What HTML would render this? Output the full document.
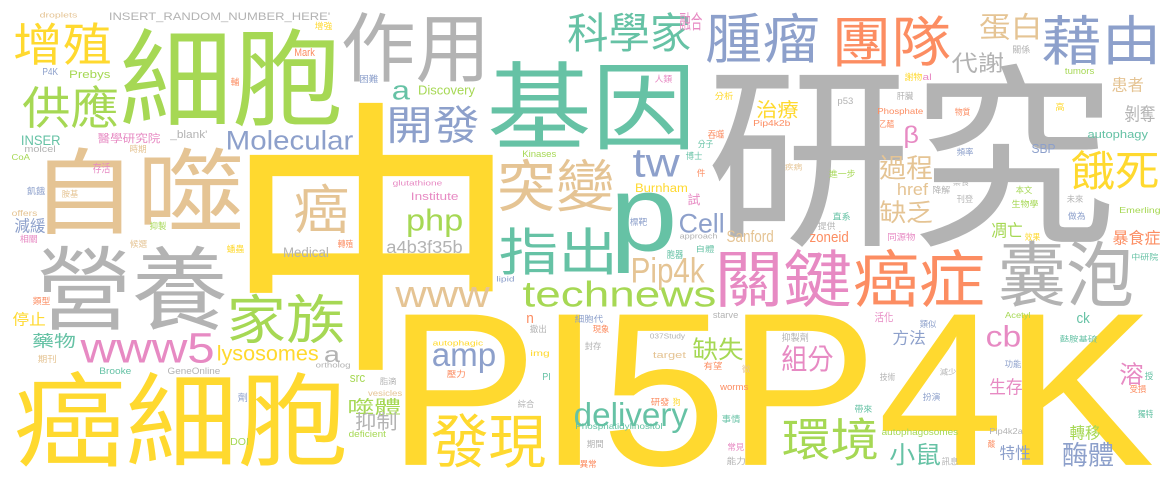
<!DOCTYPE html>
<html><head><meta charset="utf-8"><style>
html,body{margin:0;padding:0;background:#fff;width:1175px;height:482px;overflow:hidden;}
svg{display:block;}
text{font-family:"Liberation Sans","Noto Sans CJK TC",sans-serif;}
</style></head><body>
<svg id="cloud" width="1175" height="482" viewBox="0 0 1175 482" overflow="hidden"></svg>
<script>
const palette = {T:"#66c2a5",O:"#fc8d62",B:"#8da0cb",P:"#e78ac3",G:"#a6d854",Y:"#ffd92f",N:"#e5c494",R:"#b3b3b3"};
const words = ["中","PI5P4K","研究","基因","細胞","自噬","營養","癌細胞","作用","團隊","腫瘤","藉由","科學家","蛋白","p","突變","指出","關鍵","癌症","囊泡","餓死","家族","www5","www","technews","發現","環境","delivery","增殖","供應","開發","Molecular","tw","php","Cell","Pip4k","a","a","amp","lysosomes","cb","缺失","組分","噬體","藥物","小鼠","酶體","過程","缺乏","β","代謝","治療","融合","溶","生存","暴食症","抑制","剝奪","凋亡","減緩","停止","a4b3f35b","癌","Institute","Discovery","Sanford","zoneid","ck","特性","轉移","方法","患者","autophagy","SBP","href","Burnham","INSERT_RANDOM_NUMBER_HERE'","Prebys","醫學研究院","Medical","glutathione","autophagosomes","Phosphatidylinositol","droplets","增強","Mark","P4K","INSER","molcel","CoA","_blank'","時期","存活","飢餓","胺基","offers","相關","抑製","候選","蟠蟲","類型","期刊","Brooke","GeneOnline","ortholog","劑","DOI","輔","困難","人類","Kinases","標靶","胞器","lipid","n","細胞代","撤出","現象","037Study","封存","autophagic","target","img","壓力","PI","src","脂滴","vesicles","綜合","研發","狗","deficient","期間","異常","轉殖","關係","tumors","謝物","al","分析","肝臟","p53","Phosphate","物質","乙醯","高","Pip4k2b","吞噬","分子","博士","頻率","件","疾病","進一步","禁食","本文","降解","刊登","未來","生物學","試","Emerling","直系","做為","提供","同源物","效果","approach","自體","中研院","starve","活化","類似","Acetyl","抑製劑","麩胺基硫","有望","微","技術","減少","功能","授","受損","worms","扮演","帶來","事情","獨特","Pip4k2a","常見","酸","能力","訊息"];
const colors = ["Y","Y","R","T","G","N","R","Y","R","O","B","B","T","N","T","N","T","P","O","R","Y","G","P","N","G","Y","G","T","Y","G","B","B","B","G","B","N","T","R","B","Y","P","G","P","G","T","T","B","N","N","P","R","Y","P","P","P","O","R","R","G","B","Y","R","N","P","G","N","O","T","B","G","B","N","T","B","N","Y","R","G","P","R","P","G","T","N","Y","O","B","T","R","G","R","N","P","B","N","N","P","G","N","Y","O","N","T","R","R","B","G","O","B","P","G","B","T","B","O","B","R","O","R","R","Y","N","Y","O","T","G","R","N","R","O","Y","G","R","O","O","R","G","Y","P","Y","R","R","O","O","O","Y","O","O","T","T","B","O","N","G","R","G","R","R","R","G","P","G","T","B","R","P","Y","R","T","T","R","P","B","G","R","T","O","N","R","R","B","T","O","O","B","T","T","T","R","P","O"];
const boxes = [[248,100,495,373],[405,312,1153,467],[712,62,1110,248],[490,60,688,150],[123,27,340,127],[47,147,240,235],[40,245,225,330],[17,370,345,467],[343,12,482,83],[837,15,950,67],[707,13,818,63],[1043,15,1155,65],[568,12,690,52],[980,13,1038,40],[617,192,673,273],[500,158,613,212],[500,227,612,275],[720,248,850,307],[855,248,983,307],[1000,240,1132,307],[1072,150,1158,190],[230,293,343,343],[80,333,213,363],[395,287,490,307],[523,280,715,307],[432,413,545,468],[783,417,877,460],[575,402,688,433],[15,22,110,65],[23,85,117,128],[390,105,478,143],[228,130,353,150],[633,150,680,177],[408,208,462,237],[680,213,723,233],[633,257,705,290],[393,85,410,100],[325,350,340,362],[433,348,495,373],[218,345,318,365],[987,325,1020,347],[693,337,743,360],[782,345,833,372],[349,398,400,415],[33,333,75,348],[890,443,940,465],[1063,442,1113,467],[880,155,932,180],[880,200,932,223],[905,125,918,148],[952,52,1003,73],[757,100,798,118],[680,12,700,30],[1120,362,1143,385],[990,378,1022,395],[1113,230,1160,245],[356,412,396,430],[1125,105,1155,122],[992,222,1022,238],[15,218,45,233],[13,312,45,326],[387,240,462,253],[295,183,347,233],[412,192,458,200],[419,85,475,97],[727,230,773,242],[810,231,848,242],[1077,312,1090,323],[1000,445,1030,460],[1070,425,1100,440],[893,330,925,345],[1112,77,1143,92],[1088,130,1148,140],[1032,144,1055,153],[898,183,928,195],[636,183,687,192],[110,12,330,22],[70,70,110,80],[98,133,160,143],[284,247,328,257],[393,180,442,187],[882,428,958,437],[576,423,662,431],[40,12,77,19],[315,22,332,30],[295,48,315,56],[43,68,58,75],[22,135,60,145],[25,145,55,152],[12,154,30,160],[170,130,207,140],[130,145,146,153],[93,163,110,173],[27,187,45,195],[62,190,78,198],[12,210,37,216],[20,235,37,243],[150,222,166,230],[130,240,147,248],[227,245,244,253],[33,297,50,305],[38,355,56,363],[100,367,131,374],[168,367,220,374],[316,362,350,369],[238,393,247,402],[231,438,248,445],[231,78,239,86],[360,75,378,83],[655,75,672,83],[523,150,556,157],[630,218,647,226],[667,250,683,259],[497,276,514,283],[527,315,533,323],[575,315,603,323],[530,325,546,333],[593,325,609,333],[650,333,685,340],[585,342,601,350],[433,340,483,347],[653,352,686,360],[531,350,549,358],[447,370,465,378],[543,373,550,380],[350,375,365,382],[380,377,396,385],[368,390,402,396],[518,400,534,408],[651,398,669,406],[673,398,680,406],[349,430,386,437],[587,440,603,448],[580,460,596,468],[338,240,353,248],[1013,45,1030,53],[1065,68,1094,74],[905,73,922,81],[923,73,931,80],[715,92,733,100],[897,92,913,100],[838,98,853,106],[878,108,923,116],[955,108,970,116],[880,120,894,128],[1056,103,1064,111],[754,120,790,128],[708,130,724,139],[698,140,713,148],[686,152,702,160],[957,148,973,156],[697,169,705,177],[785,163,802,170],[829,170,855,178],[953,178,969,186],[1016,186,1032,194],[933,186,950,194],[957,195,973,203],[1067,195,1083,203],[1012,200,1038,208],[688,193,700,205],[1120,207,1160,215],[833,212,850,220],[1068,212,1085,220],[818,222,835,230],[888,233,915,241],[1025,233,1040,241],[680,233,717,240],[697,245,714,252],[1132,253,1158,260],[713,312,738,318],[875,312,893,322],[920,320,936,328],[1005,312,1030,320],[782,333,808,342],[1060,335,1097,342],[704,362,722,370],[742,365,750,373],[880,373,895,381],[940,368,956,375],[1005,360,1021,368],[1145,372,1153,380],[1130,385,1146,393],[720,385,748,390],[923,393,940,401],[855,405,872,413],[722,415,740,423],[1138,410,1153,418],[990,428,1023,436],[728,443,744,451],[988,440,995,448],[727,457,745,465],[942,457,958,465]];

const svg = document.getElementById('cloud');
const NS = "http://www.w3.org/2000/svg";
const cv = document.createElement('canvas');
const ctx = cv.getContext('2d');
const FONT = '"Liberation Sans","Noto Sans CJK TC",sans-serif';
ctx.font = '100px ' + FONT;
for (let i = 0; i < words.length; i++) {
  const w = words[i], b = boxes[i];
  if (!b) continue;
  const m = ctx.measureText(w);
  const L = m.actualBoundingBoxLeft, R = m.actualBoundingBoxRight;
  const A = m.actualBoundingBoxAscent, D = m.actualBoundingBoxDescent;
  const fs = 100 * (b[3] - b[1]) / Math.max(1, A + D);
  let sx = (b[2] - b[0]) / Math.max(1, (L + R) * fs / 100);
  sx = Math.min(1.6, Math.max(0.6, sx));
  const g = document.createElementNS(NS, 'g');
  g.setAttribute('transform', 'translate(' + b[0] + ',' + b[1] + ') scale(' + sx + ',1)');
  const t = document.createElementNS(NS, 'text');
  t.setAttribute('x', (L * fs / 100).toFixed(2));
  t.setAttribute('y', (A * fs / 100).toFixed(2));
  t.setAttribute('font-size', fs.toFixed(2));
  t.setAttribute('fill', palette[colors[i]] || "#b3b3b3");
  t.textContent = w;
  
  
  g.appendChild(t);
  svg.appendChild(g);
}
</script>
</body></html>
